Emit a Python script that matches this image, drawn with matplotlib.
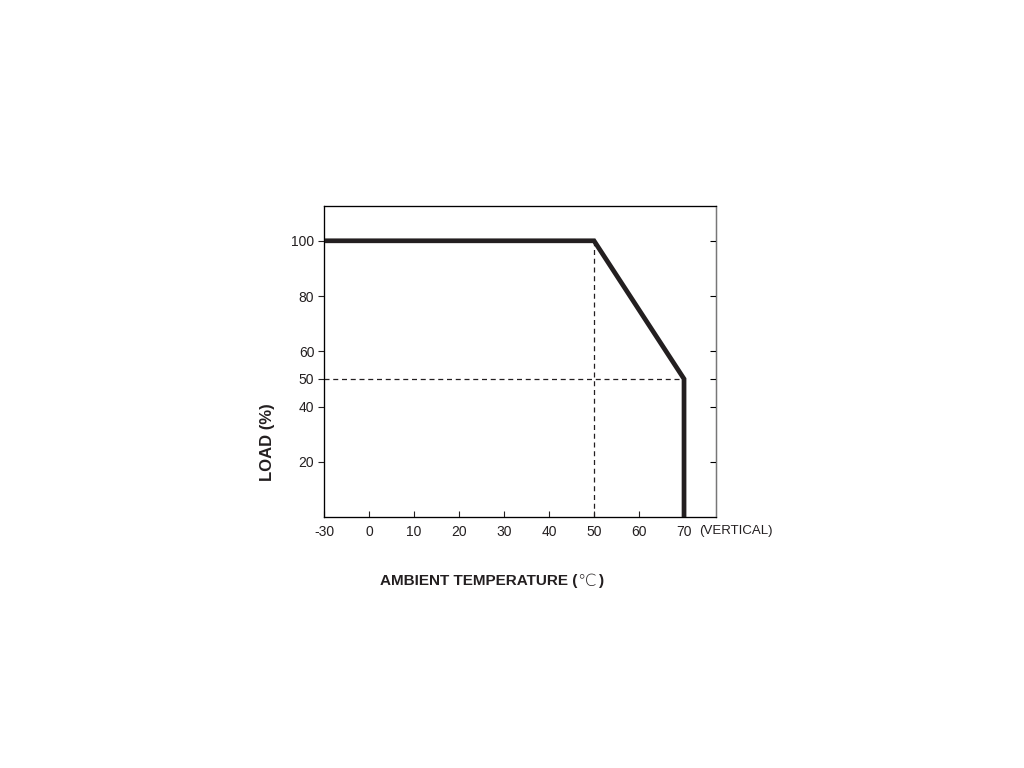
import matplotlib
matplotlib.use('Agg')
import numpy as np
import matplotlib.pyplot as plt

# derating curve
temp = [-30, 50, 70, 70]
load = [100, 100, 50, 0]
xticks = [-30, 0, 10, 20, 30, 40, 50, 60, 70]
yticks = [20, 40, 50, 60, 80, 100]

plt.rcParams['font.family'] = ['Liberation Sans', 'DejaVu Sans']
plt.rcParams['axes.unicode_minus'] = False
ink = '#231f20'

# the temperature axis is not linear: -30 sits one step before 0
brk_t = [-30, 0, 200]
brk_p = [0, 1, 21]
def fwd(x):
    return np.interp(x, brk_t, brk_p)
def inv(p):
    return np.interp(p, brk_p, brk_t)

fig = plt.figure(figsize=(10.24, 7.68), dpi=100)
ax = fig.add_axes([0.3164, 0.3268, 0.3828, 0.405])
ax.set_xscale('function', functions=(fwd, inv))

# dashed guides
ax.plot([50, 50], [0, 100], ls=(0, (4, 3)), color=ink, lw=0.9)
ax.plot([-30, 70], [50, 50], ls=(0, (4, 3)), color=ink, lw=0.9)
ax.plot(temp, load, color=ink, lw=3.4, solid_joinstyle='miter')

ax.set_xlim(-30, 77.1)
ax.set_ylim(0, 112.6)
ax.set_xticks(xticks)
ax.set_xticklabels([str(t) for t in xticks])
ax.set_xticks([], minor=True)
ax.set_yticks(yticks)
ax.tick_params(axis='x', direction='in', length=4, width=0.8, labelsize=10, pad=6, colors=ink)
ax.tick_params(axis='y', direction='out', length=4, width=0.8, labelsize=10, pad=3, colors=ink)
for s in ax.spines.values():
    s.set_linewidth(0.9)
    s.set_color(ink)

# inward ticks on right spine
ax2 = ax.twinx()
ax2.set_ylim(ax.get_ylim())
ax2.set_yticks(yticks)
ax2.tick_params(axis='y', direction='in', length=4, width=0.8, labelright=False)
ax2.spines['right'].set_color('#777777')

fig.text(0.683, 0.309, '(VERTICAL)', fontsize=9.5, color=ink, ha='left', va='center')
fig.text(0.261, 0.4245, 'LOAD (%)', rotation=90, fontsize=12, fontweight='bold',
         color=ink, ha='center', va='center')
fig.text(0.5635, 0.243, 'AMBIENT TEMPERATURE (', fontsize=11, fontweight='bold',
         color=ink, ha='right', va='center')
fig.text(0.5635, 0.243, '\u2103', fontsize=12, fontweight='light',
         family=['DejaVu Sans'], color=ink, ha='left', va='center')
fig.text(0.5845, 0.243, ')', fontsize=11, fontweight='bold',
         color=ink, ha='left', va='center')

fig.savefig('out.png', dpi=100)
